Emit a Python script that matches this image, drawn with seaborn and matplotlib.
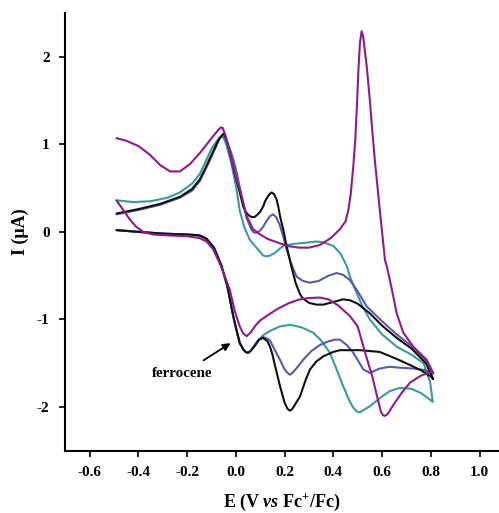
import numpy as np
import pandas as pd
import matplotlib
matplotlib.use("Agg")
import matplotlib.pyplot as plt
import seaborn as sns

# ---------------- data ----------------
black_E = [-0.49, -0.40, -0.30, -0.20, -0.15, -0.12, -0.09, -0.06, -0.035, -0.011, 0.005, 0.016, 0.03, 0.04,
           0.05, 0.06, 0.075, 0.095, 0.112, 0.13, 0.14, 0.15, 0.16, 0.181, 0.20, 0.212, 0.222, 0.232, 0.245,
           0.263, 0.285, 0.304, 0.33, 0.359, 0.40, 0.427, 0.509, 0.59, 0.66, 0.715, 0.76, 0.80, 0.81,
           0.78, 0.72, 0.66, 0.60, 0.55, 0.50, 0.468, 0.44, 0.40, 0.36, 0.33, 0.30, 0.275, 0.263, 0.245,
           0.229, 0.208, 0.195, 0.181, 0.174, 0.167, 0.157, 0.147, 0.138, 0.13, 0.12, 0.112, 0.10, 0.09, 0.077,
           0.064, 0.052, 0.04, 0.03, 0.016, 0.003, -0.012, -0.025, -0.035, -0.045, -0.052, -0.06, -0.07, -0.08,
           -0.10, -0.13, -0.148, -0.18, -0.23, -0.31, -0.40, -0.49]
black_I = [0.02, 0.00, -0.02, -0.03, -0.04, -0.08, -0.18, -0.38, -0.62, -0.96, -1.15, -1.27, -1.34, -1.37,
           -1.38, -1.36, -1.31, -1.23, -1.21, -1.25, -1.31, -1.40, -1.52, -1.76, -1.95, -2.02, -2.04, -2.02, -1.96,
           -1.88, -1.70, -1.57, -1.48, -1.42, -1.37, -1.35, -1.35, -1.37, -1.45, -1.52, -1.58, -1.65, -1.68,
           -1.50, -1.33, -1.21, -1.07, -0.93, -0.82, -0.78, -0.77, -0.80, -0.83, -0.83, -0.81, -0.76, -0.71, -0.58,
           -0.41, -0.16, 0.02, 0.18, 0.29, 0.37, 0.43, 0.45, 0.43, 0.40, 0.35, 0.29, 0.23, 0.20, 0.17,
           0.17, 0.19, 0.23, 0.29, 0.45, 0.58, 0.75, 0.90, 1.02, 1.10, 1.12, 1.09, 1.05, 1.00,
           0.88, 0.70, 0.60, 0.49, 0.40, 0.32, 0.26, 0.21]

blue_E = [-0.49, -0.40, -0.30, -0.20, -0.15, -0.12, -0.09, -0.06, -0.035, -0.011, 0.005, 0.016, 0.03, 0.04,
          0.05, 0.06, 0.075, 0.095, 0.112, 0.13, 0.14, 0.16, 0.181, 0.20, 0.212, 0.222, 0.232, 0.245, 0.276,
          0.31, 0.345, 0.38, 0.405, 0.427, 0.455, 0.482, 0.523, 0.55, 0.59, 0.63, 0.673, 0.73, 0.78, 0.81,
          0.78, 0.72, 0.66, 0.60, 0.537, 0.50, 0.468, 0.44, 0.413, 0.38, 0.34, 0.304, 0.275, 0.249, 0.235,
          0.222, 0.205, 0.194, 0.18, 0.165, 0.153, 0.14, 0.125, 0.11, 0.097, 0.085, 0.075, 0.065, 0.045, 0.025,
          0.005, -0.012, -0.025, -0.04, -0.052, -0.06, -0.068, -0.08, -0.10, -0.13, -0.148, -0.18, -0.23, -0.31,
          -0.40, -0.49]
blue_I = [0.02, 0.00, -0.02, -0.03, -0.04, -0.08, -0.18, -0.38, -0.62, -0.96, -1.15, -1.27, -1.34, -1.37,
          -1.38, -1.36, -1.31, -1.23, -1.20, -1.22, -1.24, -1.35, -1.46, -1.57, -1.61, -1.63, -1.61, -1.57, -1.46,
          -1.36, -1.29, -1.25, -1.23, -1.23, -1.29, -1.38, -1.57, -1.61, -1.56, -1.54, -1.55, -1.56, -1.58, -1.62,
          -1.47, -1.30, -1.17, -1.02, -0.85, -0.68, -0.55, -0.49, -0.47, -0.50, -0.56, -0.58, -0.56, -0.51, -0.42,
          -0.32, -0.17, -0.05, 0.08, 0.17, 0.20, 0.18, 0.12, 0.05, 0.01, -0.01, -0.01, 0.02, 0.15, 0.38,
          0.66, 0.84, 0.95, 1.05, 1.10, 1.09, 1.07, 0.98, 0.86, 0.68, 0.58, 0.47, 0.39, 0.31,
          0.25, 0.20]

teal_E = [-0.49, -0.40, -0.30, -0.20, -0.15, -0.12, -0.09, -0.06, -0.035, -0.011, 0.005, 0.016, 0.03, 0.04,
          0.05, 0.06, 0.07, 0.09, 0.112, 0.14, 0.18, 0.222, 0.27, 0.317, 0.35, 0.386, 0.415, 0.44, 0.465, 0.48,
          0.496, 0.508, 0.52, 0.55, 0.59, 0.63, 0.673, 0.72, 0.76, 0.79, 0.808,
          0.797, 0.77, 0.72, 0.66, 0.60, 0.55, 0.52, 0.496, 0.468, 0.455, 0.43, 0.40, 0.36, 0.33, 0.30, 0.263,
          0.23, 0.194, 0.16, 0.14, 0.126, 0.112, 0.10, 0.075, 0.057, 0.035, 0.016, 0.003, -0.02, -0.04, -0.05,
          -0.059, -0.067, -0.075, -0.10, -0.125, -0.148, -0.18, -0.23, -0.28, -0.35, -0.42, -0.49]
teal_I = [0.02, 0.00, -0.02, -0.03, -0.04, -0.08, -0.18, -0.38, -0.62, -0.96, -1.15, -1.27, -1.34, -1.37,
          -1.38, -1.36, -1.32, -1.24, -1.18, -1.13, -1.08, -1.06, -1.09, -1.15, -1.24, -1.38, -1.58, -1.76, -1.92, -2.0,
          -2.05, -2.06, -2.04, -1.99, -1.90, -1.82, -1.78, -1.79, -1.84, -1.90, -1.94,
          -1.71, -1.50, -1.40, -1.31, -1.17, -1.00, -0.85, -0.70, -0.51, -0.39, -0.25, -0.16, -0.12, -0.11, -0.12, -0.13,
          -0.14, -0.16, -0.24, -0.27, -0.28, -0.27, -0.23, -0.15, -0.09, 0.05, 0.24, 0.48, 0.80, 1.00, 1.07,
          1.09, 1.08, 1.05, 0.95, 0.80, 0.66, 0.55, 0.45, 0.39, 0.35, 0.34, 0.36]

purple_E = [-0.49, -0.46, -0.435, -0.41, -0.38, -0.34, -0.28, -0.20, -0.15, -0.12, -0.093, -0.06, -0.04, -0.025,
            -0.005, 0.016, 0.03, 0.044, 0.06, 0.08, 0.10, 0.126, 0.17, 0.22, 0.263, 0.30, 0.345, 0.38, 0.42,
            0.468, 0.50, 0.537, 0.56, 0.578, 0.595, 0.603, 0.61, 0.618, 0.625, 0.65, 0.68, 0.715, 0.76, 0.80, 0.81,
            0.783, 0.728, 0.687, 0.66, 0.645, 0.632, 0.62, 0.612, 0.60, 0.59, 0.58, 0.571, 0.56, 0.55, 0.537,
            0.53, 0.523, 0.516, 0.509, 0.503, 0.497, 0.49, 0.482, 0.472, 0.462, 0.45, 0.427, 0.39, 0.345, 0.30,
            0.26, 0.22, 0.18, 0.13, 0.10, 0.071, 0.044, 0.02, 0.0, -0.01, -0.025, -0.035, -0.045, -0.055, -0.063,
            -0.07, -0.085, -0.10, -0.125, -0.148, -0.19, -0.23, -0.27, -0.31, -0.353, -0.40, -0.45, -0.49]
purple_I = [0.36, 0.24, 0.14, 0.06, 0.00, -0.03, -0.04, -0.05, -0.07, -0.11, -0.20, -0.40, -0.55, -0.66,
            -0.90, -1.08, -1.16, -1.19, -1.15, -1.07, -1.01, -0.96, -0.88, -0.81, -0.77, -0.755, -0.75, -0.77, -0.84,
            -0.96, -1.08, -1.44, -1.65, -1.86, -2.05, -2.09, -2.10, -2.09, -2.07, -1.96, -1.84, -1.72, -1.64, -1.60, -1.61,
            -1.46, -1.31, -1.15, -0.93, -0.72, -0.55, -0.40, -0.32, 0.0, 0.27, 0.55, 0.80, 1.15, 1.50, 1.89,
            2.05, 2.22, 2.29, 2.15, 1.85, 1.45, 1.05, 0.75, 0.45, 0.25, 0.12, 0.03, -0.07, -0.15, -0.18,
            -0.18, -0.165, -0.13, -0.08, -0.03, 0.03, 0.18, 0.45, 0.62, 0.72, 0.90, 1.02, 1.12, 1.19, 1.19,
            1.17, 1.12, 1.07, 0.98, 0.90, 0.77, 0.69, 0.69, 0.76, 0.88, 0.98, 1.04, 1.07]

curve_names = ["teal", "blue", "black", "purple"]
curve_colors = {"teal": "#3a9a9c", "blue": "#5a5aaa", "black": "#111111", "purple": "#8e1a8c"}

x_ticks = [-0.6, -0.4, -0.2, 0.0, 0.2, 0.4, 0.6, 0.8, 1.0]
y_ticks = [-2, -1, 0, 1, 2]

# ---------------- build table ----------------
frames = []
for name, E, I in [("teal", teal_E, teal_I), ("blue", blue_E, blue_I),
                   ("black", black_E, black_I), ("purple", purple_E, purple_I)]:
    frames.append(pd.DataFrame({"E": E, "I": I, "curve": name}))
df = pd.concat(frames, ignore_index=True)

# ---------------- style ----------------
sns.set_theme(style="ticks")
plt.rcParams["font.family"] = ["Liberation Serif", "DejaVu Serif"]
plt.rcParams["font.weight"] = "bold"
plt.rcParams["text.color"] = "black"
plt.rcParams["axes.labelcolor"] = "black"
plt.rcParams["xtick.color"] = "black"
plt.rcParams["ytick.color"] = "black"
plt.rcParams["mathtext.fontset"] = "custom"
plt.rcParams["mathtext.rm"] = "Liberation Serif:bold"
plt.rcParams["mathtext.it"] = "Liberation Serif:italic:bold"
plt.rcParams["mathtext.bf"] = "Liberation Serif:bold"

fig = plt.figure(figsize=(4.99, 5.13), dpi=100)
ax = fig.add_axes([0.130, 0.121, 0.870, 0.854])

for name in curve_names:
    sub = df[df["curve"] == name]
    sns.lineplot(data=sub, x="E", y="I", sort=False, estimator=None, ax=ax,
                 color=curve_colors[name], linewidth=1.5, legend=False,
                 solid_joinstyle="round", solid_capstyle="round")

ax.set_xlim(-0.702, 1.08)
ax.set_ylim(-2.5, 2.5)
ax.set_xticks(x_ticks)
ax.set_xticklabels([f"{v:.1f}" for v in x_ticks])
ax.set_yticks(y_ticks)
ax.set_yticklabels([str(v) for v in y_ticks])

for s in ["top", "right"]:
    ax.spines[s].set_visible(False)
for s in ["left", "bottom"]:
    ax.spines[s].set_linewidth(1.5)
    ax.spines[s].set_color("black")

ax.tick_params(axis="both", direction="out", length=4, width=1.2, colors="black",
               labelcolor="black", labelsize=11, pad=7)
for lab in ax.get_xticklabels() + ax.get_yticklabels():
    lab.set_fontweight("bold")
    lab.set_color("black")

ax.set_xlabel(r"E (V $\mathit{vs}$ Fc$^{+}$/Fc)", fontsize=13, fontweight="bold", labelpad=9,
              color="black")
ax.set_ylabel("I (\u03bcA)", fontsize=13, fontweight="bold", labelpad=6, color="black")

ax.annotate("ferrocene", xy=(-0.022, -1.27), xytext=(-0.22, -1.62),
            fontsize=10.8, fontweight="bold", ha="center", va="center", color="black",
            arrowprops=dict(arrowstyle="-|>", color="black", lw=1.3,
                            shrinkA=5, shrinkB=0, mutation_scale=11))

fig.savefig("out.png", dpi=100)
